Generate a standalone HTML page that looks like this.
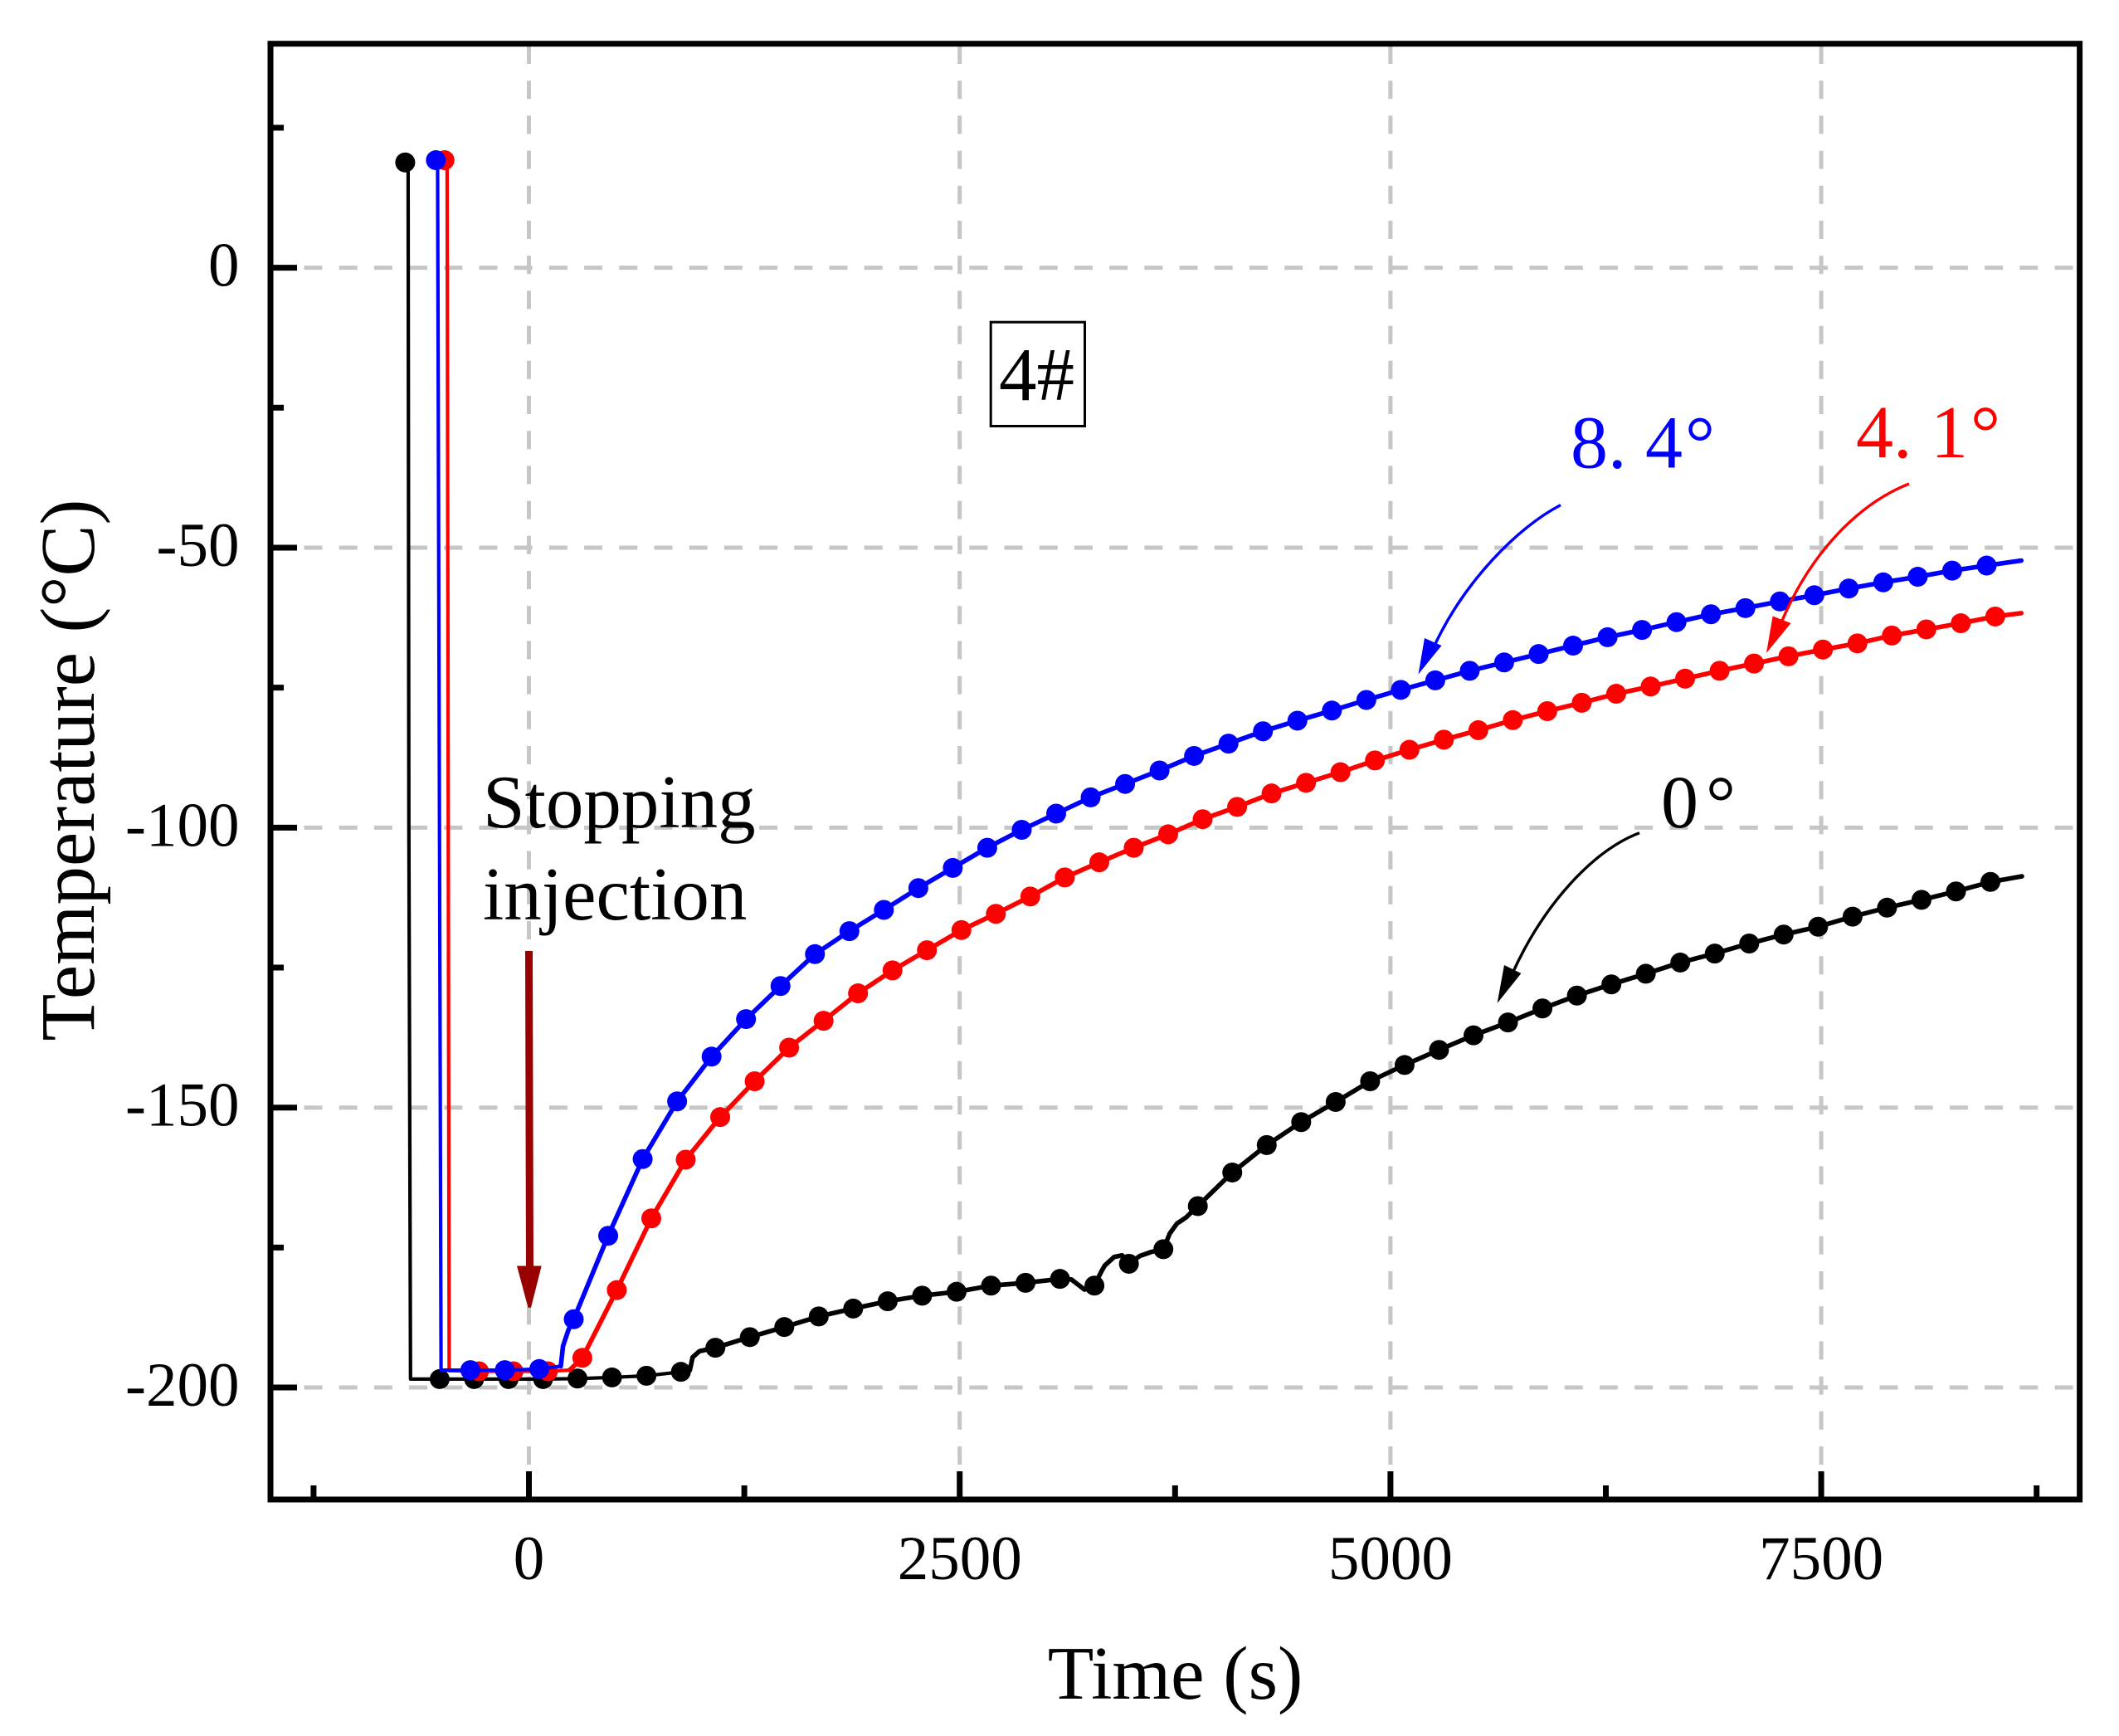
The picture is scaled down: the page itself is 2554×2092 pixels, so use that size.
<!DOCTYPE html>
<html lang="en">
<head>
<meta charset="utf-8">
<title>Temperature vs Time 4#</title>
<style>
html,body{margin:0;padding:0;background:#fff;}
svg{display:block;}
text{font-family:"Liberation Serif","Noto Serif CJK SC",serif;fill:#000;}
</style>
</head>
<body>
<svg id="chart" xmlns="http://www.w3.org/2000/svg" width="2554" height="2092" viewBox="0 0 2554 2092">
  <rect x="0" y="0" width="2554" height="2092" fill="#fff"/>
  <g id="grid"></g>
  <g id="series"></g>
  <g id="axes"></g>

  <text x="1416.5" y="2047" font-size="91" text-anchor="middle">Time (s)</text>
  <text x="0" y="0" font-size="93" text-anchor="middle" transform="translate(113 928) rotate(-90)">Temperature (°C)</text>

  <text x="582" y="997" font-size="91">Stopping</text>
  <text x="582" y="1108" font-size="91">injection</text>
  <g>
    <path d="M633 1146 L642 1146 L643 1530 L634 1530 Z" fill="#990000"/>
    <path d="M623 1525.5 L652.7 1525.5 L640 1575.7 L636.5 1575.7 Z" fill="#990000"/>
  </g>

  <g>
    <rect x="1194.2" y="388.2" width="113.3" height="125.3" fill="#fff" stroke="#000" stroke-width="3"/>
    <text x="1204" y="482" font-size="91">4#</text>
  </g>

  <text x="1893" y="563.5" font-size="90" style="fill:#0000ff">8. 4<tspan dx="3">°</tspan></text>
  <text x="2237" y="551" font-size="90" style="fill:#ff0000">4. 1<tspan dx="3">°</tspan></text>
  <text x="2002" y="997" font-size="90">0<tspan dx="9">°</tspan></text>

  <g>
    <path d="M1881 608.6 C1830 635 1765 700 1728 780" fill="none" stroke="#0000ff" stroke-width="3.4"/>
    <path d="M1717 769 L1737.5 778 L1709.5 812.5 Z" fill="#0000ff"/>
  </g>
  <g>
    <path d="M2301 583 C2245 605 2185 660 2147 750" fill="none" stroke="#ff0000" stroke-width="3.4"/>
    <path d="M2136.6 742.5 L2158.5 751 L2129 787 Z" fill="#ff0000"/>
  </g>
  <g>
    <path d="M1976 1003.7 C1920 1025 1860 1090 1822 1175" fill="none" stroke="#000" stroke-width="3.4"/>
    <path d="M1813 1163 L1833.4 1173 L1804.6 1209 Z" fill="#000"/>
  </g>
</svg>

<script>
// Axis tick values and labels
var xMajorTicks = [0, 2500, 5000, 7500];
var xTickLabels = ["0", "2500", "5000", "7500"];
var xMinorTicks = [-1250, 1250, 3750, 6250, 8750];
var yMajorTicks = [0, -50, -100, -150, -200];
var yTickLabels = ["0", "-50", "-100", "-150", "-200"];
var yMinorTicks = [25, -25, -75, -125, -175];

// 0 degree series (black): sampled markers
var blackTimes = [-718,-518,-318,-118,82,282,482,682,882,1082,1282,1482,1682,1882,2082,2282,2482,2682,2882,3082,3282,3482,3682,3882,4082,4282,4482,4682,4882,5082,5282,5482,5682,5882,6082,6282,6482,6682,6882,7082,7282,7482,7682,7882,8082,8282,8482];
var blackTemps = [18.8,-198.5,-198.5,-198.5,-198.5,-198.4,-198.2,-197.9,-197.2,-192.9,-191,-189.2,-187.3,-185.9,-184.6,-183.6,-182.9,-181.8,-181.3,-180.6,-181.8,-177.9,-175.3,-167.6,-161.6,-156.7,-152.6,-149,-145.3,-142.4,-139.7,-137.1,-134.8,-132.3,-130,-128,-126.1,-124.1,-122.5,-120.7,-119.1,-117.7,-115.9,-114.3,-112.9,-111.4,-109.7];
// 0 degree series: extra line-only detail points
var blackDetailTimes = [-701,-697,-687,934,950,990,3148,3224,3320,3342,3396,3443,3546,3610,3719,3761,3815,8665];
var blackDetailTemps = [18.5,-100,-198.5,-196.9,-194.6,-193.5,-180.7,-182.5,-179.4,-178.2,-176.7,-176.4,-176.5,-175.8,-172.5,-170.7,-169.6,-108.7];

// 4.1 degree series (red)
var redTimes = [-490,-290,-90,110,310,510,710,910,1110,1310,1510,1710,1910,2110,2310,2510,2710,2910,3110,3310,3510,3710,3910,4110,4310,4510,4710,4910,5110,5310,5510,5710,5910,6110,6310,6510,6710,6910,7110,7310,7510,7710,7910,8110,8310,8510];
var redTemps = [19.2,-197.1,-197.1,-197.1,-194.7,-182.6,-169.8,-159.3,-151.7,-145.3,-139.3,-134.5,-129.6,-125.5,-121.9,-118.3,-115.4,-112.3,-108.9,-106.2,-103.6,-101.2,-98.5,-96.3,-93.9,-92,-90.1,-88,-86.1,-84.3,-82.6,-80.8,-79.2,-77.7,-76.1,-74.8,-73.4,-72,-70.7,-69.4,-68.2,-67.1,-65.7,-64.6,-63.5,-62.3];
var redDetailTimes = [-475,-463,236,8661];
var redDetailTemps = [19,-197,-196.9,-61.7];

// 8.4 degree series (blue)
var blueTimes = [-540,-340,-140,60,260,460,660,860,1060,1260,1460,1660,1860,2060,2260,2460,2660,2860,3060,3260,3460,3660,3860,4060,4260,4460,4660,4860,5060,5260,5460,5660,5860,6060,6260,6460,6660,6860,7060,7260,7460,7660,7860,8060,8260,8460];
var blueTemps = [19.2,-196.9,-196.9,-196.7,-187.8,-172.9,-159.2,-148.9,-140.9,-134.2,-128.3,-122.6,-118.5,-114.7,-110.8,-107.2,-103.6,-100.4,-97.5,-94.6,-92.2,-89.8,-87.2,-85,-82.8,-80.9,-79.1,-77.2,-75.4,-73.7,-72,-70.5,-69,-67.5,-66,-64.7,-63.3,-61.9,-60.8,-59.6,-58.5,-57.3,-56.2,-55.2,-54.1,-53.2];
var blueDetailTimes = [-530,-510,185,198,228,8661];
var blueDetailTemps = [19,-196.9,-196.2,-192.6,-189.8,-52.3];

// Plot frame
var plotLeft = 326, plotRight = 2506.6, plotTop = 52.7, plotBottom = 1807;
var xMin = -1500, xMax = 9000, yMin = -220, yMax = 40;
function xScale(t) { return plotLeft + (t - xMin) / (xMax - xMin) * (plotRight - plotLeft); }
function yScale(v) { return plotBottom - (v - yMin) / (yMax - yMin) * (plotBottom - plotTop); }

var NS = "http://www.w3.org/2000/svg";
function make(tag, attrs, parent) {
  var el = document.createElementNS(NS, tag);
  for (var k in attrs) { el.setAttribute(k, attrs[k]); }
  parent.appendChild(el);
  return el;
}
var gridG = document.getElementById("grid");
var seriesG = document.getElementById("series");
var axesG = document.getElementById("axes");

// Grid lines
yMajorTicks.forEach(function (v) {
  var y = yScale(v);
  var el = make("line", {x1: 366.5, y1: y, x2: plotRight - 3, y2: y, stroke: "#c6c6c6", "stroke-width": 5, "stroke-dasharray": "22 20.2"}, gridG);
  
  
});
xMajorTicks.forEach(function (t) {
  var x = xScale(t);
  var el = make("line", {x1: x, y1: 1765, x2: x, y2: plotTop + 3, stroke: "#c6c6c6", "stroke-width": 5, "stroke-dasharray": "22 20.2"}, gridG);
  
  
});

// Series lines and markers: the drop and cold plateau are thinner than the warming curve
function drawSeries(name, color, times, temps, detailTimes, detailTemps, plateauEnd) {
  var pts = [];
  times.forEach(function (t, i) { pts.push([t, temps[i]]); });
  detailTimes.forEach(function (t, i) { pts.push([t, detailTemps[i]]); });
  pts.sort(function (a, b) { return a[0] - b[0]; });
  function toPoints(list) {
    return list.map(function (p) { return xScale(p[0]).toFixed(1) + "," + yScale(p[1]).toFixed(1); }).join(" ");
  }
  var plateau = pts.filter(function (p) { return p[0] <= plateauEnd; });
  var rising = pts.filter(function (p) { return p[0] >= plateau[plateau.length - 1][0]; });
  var thin = make("polyline", {points: toPoints(plateau), fill: "none", stroke: color, "stroke-width": 4.2, "stroke-linejoin": "round", "stroke-linecap": "round"}, seriesG);
  
  
  var thick = make("polyline", {points: toPoints(rising), fill: "none", stroke: color, "stroke-width": 5.6, "stroke-linejoin": "round", "stroke-linecap": "round"}, seriesG);
  
  
  times.forEach(function (t, i) {
    var c = make("circle", {cx: xScale(t), cy: yScale(temps[i]), r: 12, fill: color}, seriesG);
    
    
  });
}
drawSeries("series-0-degrees", "#000000", blackTimes, blackTemps, blackDetailTimes, blackDetailTemps, 882);
drawSeries("series-4-1-degrees", "#ff0000", redTimes, redTemps, redDetailTimes, redDetailTemps, 236);
drawSeries("series-8-4-degrees", "#0000ff", blueTimes, blueTemps, blueDetailTimes, blueDetailTemps, 185);

// Axis frame
var frame = make("rect", {x: plotLeft, y: plotTop, width: plotRight - plotLeft, height: plotBottom - plotTop, fill: "none", stroke: "#000", "stroke-width": 7}, axesG);



// X ticks
xMajorTicks.forEach(function (t, i) {
  var x = xScale(t);
  var tick = make("line", {x1: x, y1: plotBottom, x2: x, y2: plotBottom - 34, stroke: "#000", "stroke-width": 7}, axesG);
  
  
  var label = make("text", {x: x, y: 1903, "font-size": 75, "text-anchor": "middle"}, axesG);
  label.textContent = xTickLabels[i];
  
  
});
xMinorTicks.forEach(function (t) {
  var x = xScale(t);
  var tick = make("line", {x1: x, y1: plotBottom, x2: x, y2: plotBottom - 17, stroke: "#000", "stroke-width": 7}, axesG);
  
  
});

// Y ticks
yMajorTicks.forEach(function (v, i) {
  var y = yScale(v);
  var tick = make("line", {x1: plotLeft, y1: y, x2: plotLeft + 32, y2: y, stroke: "#000", "stroke-width": 7}, axesG);
  
  
  var label = make("text", {x: 288.5, y: y + 22, "font-size": 75, "text-anchor": "end"}, axesG);
  label.textContent = yTickLabels[i];
  
  
});
yMinorTicks.forEach(function (v) {
  var y = yScale(v);
  var tick = make("line", {x1: plotLeft, y1: y, x2: plotLeft + 16, y2: y, stroke: "#000", "stroke-width": 7}, axesG);
  
  
});
</script>
</body>
</html>
